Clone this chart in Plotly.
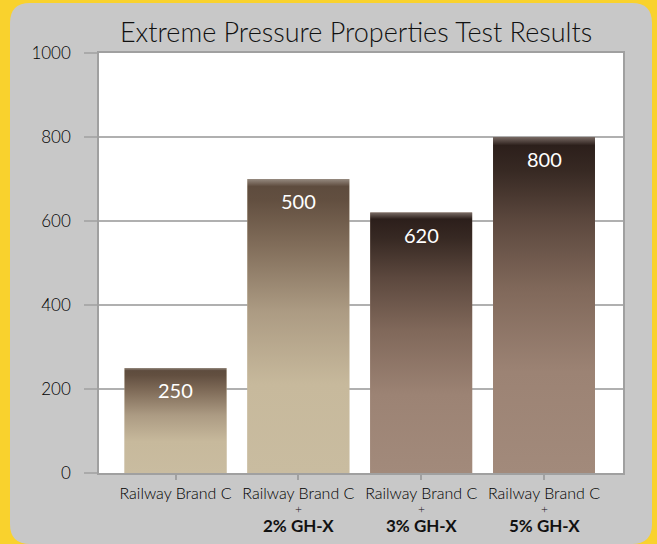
import plotly.graph_objects as go

# ---------------- data ----------------
categories = [
    "Railway Brand C",
    "Railway Brand C + 2% GH-X",
    "Railway Brand C + 3% GH-X",
    "Railway Brand C + 5% GH-X",
]
tick_first_line = ["Railway Brand C", "Railway Brand C", "Railway Brand C", "Railway Brand C"]
tick_additive = ["", "2% GH-X", "3% GH-X", "5% GH-X"]
bar_heights = [250, 700, 620, 800]
bar_labels = ["250", "500", "620", "800"]
y_tick_values = [0, 200, 400, 600, 800, 1000]
y_tick_labels = ["0", "200", "400", "600", "800", "1000"]
title_text = "Extreme Pressure Properties Test Results"

# ---------------- style ----------------
W, H = 657, 544
ML, MR, MT, MB = 99, 34, 53, 71
FONT = "Lato"
BAR_WIDTH = 0.83

scale_light = [
    [0.0, "rgb(201,188,160)"],
    [0.30, "rgb(199,185,156)"],
    [0.55, "rgb(172,155,131)"],
    [0.78, "rgb(128,108,89)"],
    [0.93, "rgb(98,79,64)"],
    [0.975, "rgb(94,76,62)"],
    [1.0, "rgb(150,138,128)"],
]
scale_dark = [
    [0.0, "rgb(162,138,123)"],
    [0.30, "rgb(156,131,116)"],
    [0.55, "rgb(128,104,90)"],
    [0.75, "rgb(92,72,62)"],
    [0.90, "rgb(55,41,35)"],
    [0.975, "rgb(44,31,27)"],
    [1.0, "rgb(120,106,100)"],
]
bar_scales = [scale_light, scale_light, scale_dark, scale_dark]


def ptx(px):
    return (px - ML) / (W - ML - MR)


def pty(py):
    return (H - MB - py) / (H - MT - MB)


fig = go.Figure()

# real bars (underneath gradient overlay)
fig.add_trace(go.Bar(
    x=list(range(len(categories))), y=bar_heights, width=BAR_WIDTH,
    marker=dict(color=[s[0][1] for s in bar_scales], line=dict(width=0)),
    hovertext=categories, hoverinfo="text+y", showlegend=False,
))

# gradient overlay for each bar
for i, (h, sc) in enumerate(zip(bar_heights, bar_scales)):
    x0, x1 = i - BAR_WIDTH / 2, i + BAR_WIDTH / 2
    fig.add_trace(go.Scatter(
        x=[x0, x0, x1, x1, x0], y=[0, h, h, 0, 0],
        mode="lines", line=dict(width=0, color="rgba(0,0,0,0)"),
        fill="toself",
        fillgradient=dict(type="vertical", colorscale=sc, start=0, stop=h),
        hoverinfo="skip", showlegend=False,
    ))

# value labels
for i, (h, lab) in enumerate(zip(bar_heights, bar_labels)):
    fig.add_annotation(
        x=i, y=h, text=lab, showarrow=False, yanchor="middle", yshift=-22,
        font=dict(family=FONT, size=20, color="white"),
    )

# second and third lines of the category labels
for i, b in enumerate(tick_additive):
    if not b:
        continue
    fig.add_annotation(
        x=i, xref="x", y=pty(509), yref="paper", text="+", showarrow=False,
        yanchor="middle", font=dict(family=FONT, size=12, color="#111111", weight=300),
    )
    fig.add_annotation(
        x=i, xref="x", y=pty(525), yref="paper", text=f"<b>{b}</b>", showarrow=False,
        yanchor="middle", font=dict(family=FONT, size=17, color="#111111"),
    )

# rounded grey card and white plot area
x0p, x1p, y0p, y1p, r = 10, 652, 3, 544, 20
path = (
    f"M {ptx(x0p + r)},{pty(y0p)} L {ptx(x1p - r)},{pty(y0p)} "
    f"Q {ptx(x1p)},{pty(y0p)} {ptx(x1p)},{pty(y0p + r)} "
    f"L {ptx(x1p)},{pty(y1p - r)} Q {ptx(x1p)},{pty(y1p)} {ptx(x1p - r)},{pty(y1p)} "
    f"L {ptx(x0p + r)},{pty(y1p)} Q {ptx(x0p)},{pty(y1p)} {ptx(x0p)},{pty(y1p - r)} "
    f"L {ptx(x0p)},{pty(y0p + r)} Q {ptx(x0p)},{pty(y0p)} {ptx(x0p + r)},{pty(y0p)} Z"
)
fig.add_shape(type="path", path=path, xref="paper", yref="paper",
              fillcolor="#c8c8c8", line=dict(width=0), layer="below")
fig.add_shape(type="rect", xref="paper", yref="paper", x0=0, x1=1, y0=0, y1=1,
              fillcolor="white", line=dict(width=0), layer="below")

fig.update_layout(
    width=W, height=H,
    margin=dict(l=ML, r=MR, t=MT, b=MB),
    paper_bgcolor="#f9d22d",
    plot_bgcolor="rgba(0,0,0,0)",
    font=dict(family=FONT, color="#111111"),
    title=dict(text=title_text, x=0.542, xref="container", xanchor="center",
               y=1 - 33 / H, yref="container", yanchor="middle",
               font=dict(family=FONT, size=27, color="#111111", weight=300)),
    showlegend=False,
    xaxis=dict(
        range=[-0.623, 3.643], tickmode="array",
        tickvals=list(range(len(categories))), ticktext=tick_first_line,
        ticks="outside", ticklen=5, tickcolor="#a0a0a0", tickwidth=1.5,
        showgrid=False, zeroline=False,
        showline=True, mirror=True, linecolor="#a0a0a0", linewidth=1.5,
        tickfont=dict(family=FONT, size=16, color="#000000", weight=300),
        ticklabelstandoff=0,
    ),
    yaxis=dict(
        range=[0, 1000], tickmode="array", tickvals=y_tick_values, ticktext=y_tick_labels,
        ticks="outside", ticklen=13, tickcolor="#aaaaaa", tickwidth=1.5,
        showgrid=True, gridcolor="#b0b0b0", gridwidth=1.5,
        zeroline=False,
        showline=True, mirror=True, linecolor="#a0a0a0", linewidth=1.5,
        tickfont=dict(family=FONT, size=17, color="#000000", weight=300),
        ticklabelstandoff=10,
    ),
)

fig.write_html("out.html", config={"displayModeBar": False},
               post_script="document.body.style.margin='0';")
